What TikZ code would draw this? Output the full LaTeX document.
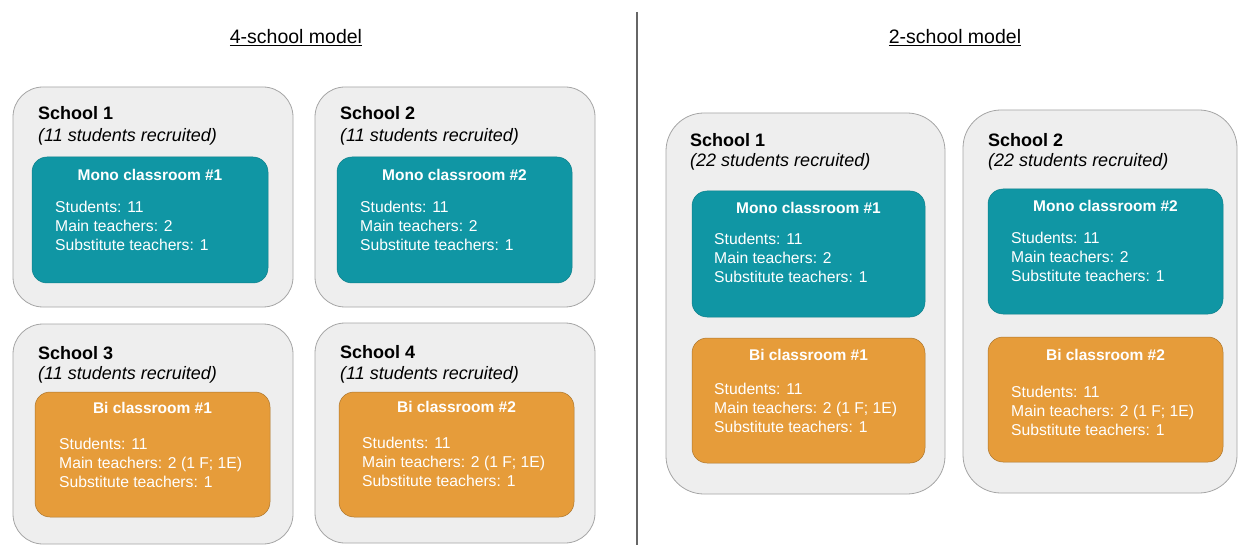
\documentclass[tikz,border=0pt]{standalone}
\usepackage{xcolor}
\usepackage{fontspec}
\setmainfont{Liberation Sans}
\usepackage{tikz}

\definecolor{monoteal}{RGB}{16,150,164}
\definecolor{biorange}{RGB}{230,156,58}
\definecolor{schoolfill}{RGB}{238,238,238}
\definecolor{schoolline}{RGB}{165,165,165}

\tikzset{
  school/.style={draw=schoolline, fill=schoolfill, line width=0.8pt, rounded corners=30pt, inner sep=0},
  monobox/.style={draw=monoteal!85!black, fill=monoteal, line width=0.5pt, rounded corners=15pt, inner sep=0},
  bibox/.style={draw=biorange!75!black, fill=biorange, line width=0.5pt, rounded corners=15pt, inner sep=0},
  schoolname/.style={anchor=west, inner sep=0, font=\fontsize{18}{21}\selectfont\bfseries},
  recruited/.style={anchor=west, inner sep=0, font=\fontsize{18}{21}\selectfont\itshape},
  roomname/.style={inner sep=0, text=white, font=\fontsize{15.5}{18}\selectfont\bfseries},
  roominfo/.style={anchor=west, align=left, inner sep=0, text=white, font=\fontsize{15.7}{19}\selectfont},
  modeltitle/.style={inner sep=0, font=\fontsize{19.5}{23}\selectfont}
}

\begin{document}
\begin{tikzpicture}[x=1pt, y=-1pt]

			\useasboundingbox (0,0) rectangle (1239,545);

			\node[modeltitle] (title4) at (296,38) {\underline{4-school model}};
			\node[modeltitle] (title2) at (955,38) {\underline{2-school model}};

			\coordinate (divtop) at (637,12);
			\coordinate (divbot) at (637,545);
			\draw[color=black!60, line width=2.5pt] (divtop) -- (divbot);

			% 4-school model
			\node[school, minimum width=280pt, minimum height=220pt] (lsch1) at (153,197) {};
			\node[monobox, minimum width=236pt, minimum height=126pt] (lmono1) at (150,220) {};
			\node[schoolname] (lname1) at (38,113) {School 1};
			\node[recruited] (lrec1) at (38,137) {(11 students recruited)};
			\node[roomname] (lroom1) at (150,175) {Mono classroom \#1};
			\node[roominfo] (linfo1) at (55,226) {Students: 11\\Main teachers: 2\\Substitute teachers: 1};

			\node[school, minimum width=280pt, minimum height=220pt] (lsch2) at (455,197) {};
			\node[monobox, minimum width=235pt, minimum height=126pt] (lmono2) at (454.5,220) {};
			\node[schoolname] (lname2) at (340,113) {School 2};
			\node[recruited] (lrec2) at (340,137) {(11 students recruited)};
			\node[roomname] (lroom2) at (454.5,175) {Mono classroom \#2};
			\node[roominfo] (linfo2) at (360,226) {Students: 11\\Main teachers: 2\\Substitute teachers: 1};

			\node[school, minimum width=280pt, minimum height=220pt] (lsch3) at (153,434) {};
			\node[bibox, minimum width=235pt, minimum height=125pt] (lbi1) at (152.5,454.5) {};
			\node[schoolname] (lname3) at (38,353) {School 3};
			\node[recruited] (lrec3) at (38,375) {(11 students recruited)};
			\node[roomname] (lroom3) at (152.5,408) {Bi classroom \#1};
			\node[roominfo] (linfo3) at (59,463) {Students: 11\\Main teachers: 2 (1 F; 1E)\\Substitute teachers: 1};

			\node[school, minimum width=280pt, minimum height=220pt] (lsch4) at (455,433) {};
			\node[bibox, minimum width=235pt, minimum height=125pt] (lbi2) at (456.5,454.5) {};
			\node[schoolname] (lname4) at (340,352) {School 4};
			\node[recruited] (lrec4) at (340,375) {(11 students recruited)};
			\node[roomname] (lroom4) at (456.5,407) {Bi classroom \#2};
			\node[roominfo] (linfo4) at (362,462) {Students: 11\\Main teachers: 2 (1 F; 1E)\\Substitute teachers: 1};

			% 2-school model
			\node[school, rounded corners=38pt, minimum width=279pt, minimum height=381pt] (rsch1) at (805.5,303.5) {};
			\node[monobox, minimum width=233pt, minimum height=126pt] (rmono1) at (808.5,254) {};
			\node[bibox, minimum width=233pt, minimum height=125pt] (rbi1) at (808.5,400.5) {};
			\node[schoolname] (rname1) at (690,140) {School 1};
			\node[recruited] (rrec1) at (690,162) {(22 students recruited)};
			\node[roomname] (rroom1) at (808.5,208) {Mono classroom \#1};
			\node[roominfo] (rinfo1) at (714,258) {Students: 11\\Main teachers: 2\\Substitute teachers: 1};
			\node[roomname] (rroom2) at (808.5,355) {Bi classroom \#1};
			\node[roominfo] (rinfo2) at (714,408) {Students: 11\\Main teachers: 2 (1 F; 1E)\\Substitute teachers: 1};

			\node[school, rounded corners=38pt, minimum width=274pt, minimum height=383pt] (rsch2) at (1100,301.5) {};
			\node[monobox, minimum width=235pt, minimum height=125pt] (rmono2) at (1105.5,251.5) {};
			\node[bibox, minimum width=235pt, minimum height=125pt] (rbi2) at (1105.5,399.5) {};
			\node[schoolname] (rname2) at (988,140) {School 2};
			\node[recruited] (rrec2) at (988,162) {(22 students recruited)};
			\node[roomname] (rroom3) at (1105.5,206) {Mono classroom \#2};
			\node[roominfo] (rinfo3) at (1011,257) {Students: 11\\Main teachers: 2\\Substitute teachers: 1};
			\node[roomname] (rroom4) at (1105.5,355) {Bi classroom \#2};
			\node[roominfo] (rinfo4) at (1011,411) {Students: 11\\Main teachers: 2 (1 F; 1E)\\Substitute teachers: 1};

\end{tikzpicture}
\end{document}
